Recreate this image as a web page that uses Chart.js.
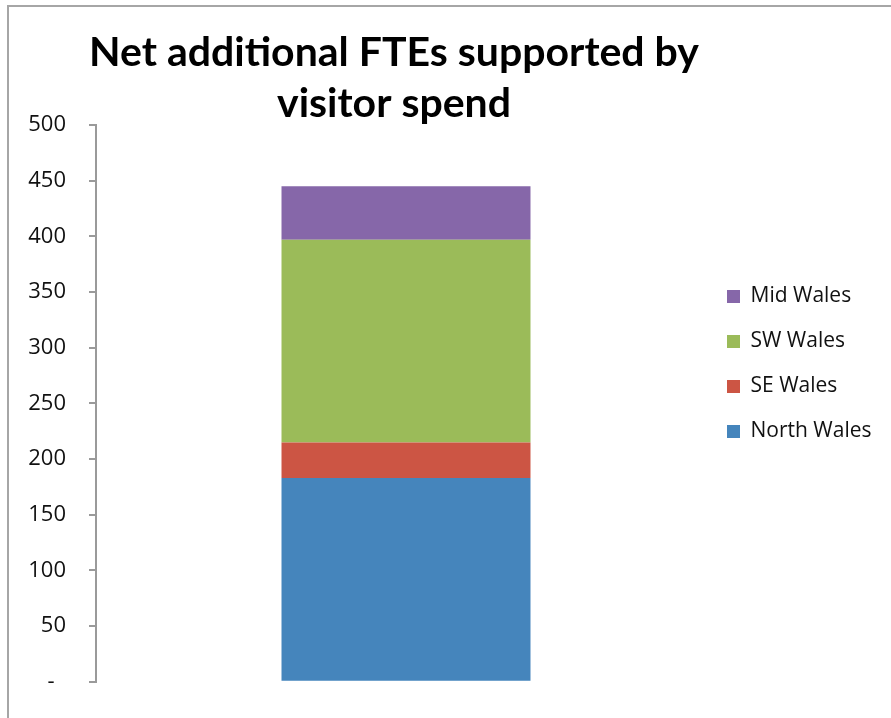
<!DOCTYPE html>
<html>
<head>
<meta charset="utf-8">
<script src="https://cdn.jsdelivr.net/npm/chart.js@4.4.1/dist/chart.umd.min.js"></script>
<style>
  html, body { margin: 0; padding: 0; background: #ffffff; }
  #wrap { position: relative; width: 891px; height: 718px; overflow: hidden; }
  #frame { position: absolute; left: 7px; top: 5px; width: 900px; height: 800px;
           border-left: 2px solid #a6a6a6; border-top: 2px solid #a6a6a6; }
  canvas { position: absolute; left: 0; top: 0; }
</style>
</head>
<body>
<div id="wrap">
  <div id="frame"></div>
  <canvas id="c" width="891" height="718"></canvas>
</div>
<script>
const titleLines = ['Net additional FTEs supported by', 'visitor spend'];
const categories = [''];
const seriesNames = ['North Wales', 'SE Wales', 'SW Wales', 'Mid Wales'];
const northWales = [183];
const seWales = [32];
const swWales = [182];
const midWales = [48];
const seriesColors = ['#4585bc', '#cc5544', '#9bbb59', '#8667a9'];
const yTicks = { min: 0, max: 500, step: 50 };

const seriesValues = [northWales, seWales, swWales, midWales];

Chart.defaults.font.family = "'Open Sans', sans-serif";
Chart.defaults.color = '#111111';

const W = 891;
const TARGET_LEFT = 96, TARGET_RIGHT = 716, TARGET_TOP = 125, TARGET_BOTTOM = 685;
const TITLE_CENTER = 394;

let padLeft = 0, padRight = 20, padBottom = 33;

const chart = new Chart(document.getElementById('c'), {
  type: 'bar',
  data: {
    labels: categories,
    datasets: seriesNames.map((name, i) => ({
      label: name,
      data: seriesValues[i],
      backgroundColor: seriesColors[i],
      borderWidth: 0,
      categoryPercentage: 1,
      barPercentage: 0.4016
    }))
  },
  options: {
    responsive: false,
    animation: false,
    events: [],
    layout: { padding: { left: padLeft, right: padRight, top: 0, bottom: padBottom } },
    scales: {
      x: { stacked: true, display: false },
      y: {
        stacked: true,
        min: yTicks.min,
        max: yTicks.max,
        afterFit: (scale) => { scale.width = TARGET_LEFT - padLeft; },
        ticks: {
          stepSize: yTicks.step,
          padding: 23,
          font: { size: 22 },
          color: '#111111',
          callback: (v) => (v === 0 ? '-  ' : String(v))
        },
        grid: { drawOnChartArea: false, drawTicks: true, tickLength: 7, color: '#9a9a9a', lineWidth: 2 },
        border: { display: true, color: '#9a9a9a', width: 2 }
      }
    },
    plugins: {
      tooltip: { enabled: false },
      title: {
        display: true,
        fullSize: true,
        text: titleLines,
        color: '#000000',
        font: { family: "Lato, 'Open Sans', sans-serif", size: 41, weight: 'bold', lineHeight: '51px' },
        padding: { top: 27, bottom: 0 }
      },
      legend: {
        display: true,
        position: 'right',
        align: 'start',
        fullSize: false,
        reverse: true,
        title: { display: true, text: '', font: { size: 10, lineHeight: 1 }, padding: { top: 140, bottom: 0 } },
        labels: {
          boxWidth: 13,
          boxHeight: 13,
          padding: 11,
          color: '#111111',
          font: { size: 21, lineHeight: '34px' },
          generateLabels: (c) => Chart.defaults.plugins.legend.labels.generateLabels(c)
            .map(item => Object.assign(item, { text: [item.text], lineWidth: 0 }))
        }
      }
    }
  }
});

// align chart area and title centre to the reference frame
for (let pass = 0; pass < 2; pass++) {
  const legendW = chart.legend.width;
  padRight = W - TARGET_RIGHT - legendW;
  padLeft = padRight - (W - 2 * TITLE_CENTER);
  padBottom += chart.chartArea.bottom - TARGET_BOTTOM;
  const dTop = chart.chartArea.top - TARGET_TOP;
  chart.options.layout.padding = { left: padLeft, right: padRight, top: 0, bottom: padBottom };
  chart.options.plugins.title.padding = { top: 27, bottom: chart.options.plugins.title.padding.bottom - dTop };
  chart.update();
}
</script>
</body>
</html>
